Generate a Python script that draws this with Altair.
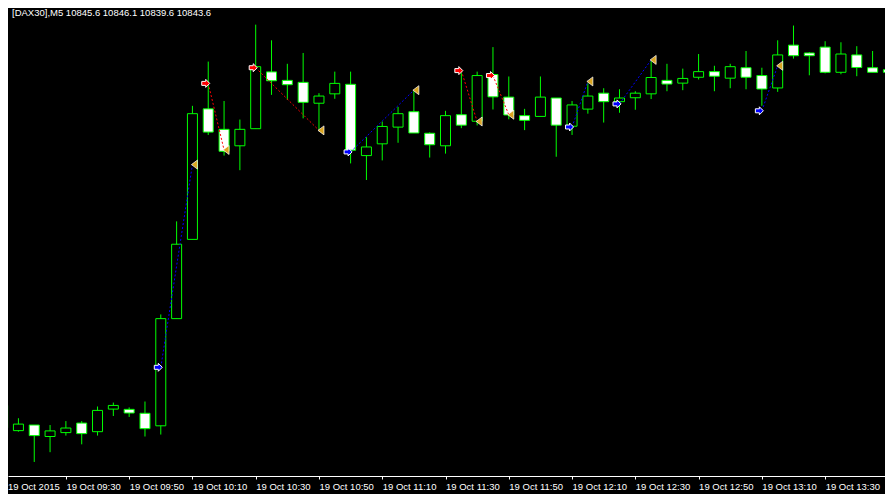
import json
import altair as alt
import pandas as pd

# ---------------- data ----------------
bar_index = list(range(-1, 56))  # 5-minute bars, bar 0 = 09:15

opens = [10588.4, 10569.1, 10573.4, 10564.6, 10567.6, 10574.9, 10568.3, 10585.6, 10585.4, 10582.4,
         10572.8, 10654.9, 10715.6, 10815.6, 10799.9, 10787.3, 10800.4, 10843.9, 10837.4, 10835.9,
         10819.9, 10827.1, 10834.4, 10779.8, 10788.8, 10801.6, 10813.4, 10796.9, 10787.3, 10811.1,
         10806.1, 10841.9, 10824.6, 10810.4, 10809.8, 10823.9, 10802.3, 10815.4, 10827.6, 10821.1,
         10824.1, 10827.1, 10837.4, 10835.3, 10839.8, 10844.1, 10839.1, 10847.1, 10841.1, 10831.6,
         10864.4, 10858.4, 10862.9, 10843.6, 10856.9, 10847.1, 10845.6]
highs = [10591.4, 10578.6, 10573.4, 10573.4, 10576.4, 10576.4, 10587.6, 10590.6, 10586.9, 10591.4,
         10658.1, 10729.4, 10817.9, 10851.8, 10821.6, 10807.4, 10880.1, 10868.1, 10850.1, 10858.4,
         10827.6, 10844.1, 10844.1, 10793.9, 10805.9, 10817.1, 10829.1, 10797.6, 10814.1, 10843.4,
         10844.1, 10862.9, 10840.4, 10815.6, 10840.4, 10823.9, 10821.6, 10835.1, 10831.4, 10830.6,
         10829.1, 10853.1, 10850.1, 10846.4, 10857.6, 10848.6, 10850.1, 10859.9, 10847.1, 10868.1,
         10879.4, 10859.1, 10867.4, 10866.6, 10863.6, 10859.9, 10846.1]
lows = [10568.9, 10568.3, 10545.1, 10552.6, 10565.3, 10558.6, 10565.3, 10580.3, 10579.6, 10564.6,
        10566.1, 10654.9, 10715.6, 10795.6, 10779.8, 10768.6, 10800.4, 10826.3, 10822.4, 10808.3,
        10798.9, 10823.3, 10773.8, 10761.1, 10776.1, 10789.6, 10797.1, 10778.3, 10781.3, 10800.8,
        10802.9, 10815.1, 10807.6, 10799.3, 10809.8, 10778.9, 10795.6, 10811.9, 10805.1, 10812.6,
        10814.9, 10823.1, 10829.1, 10829.9, 10838.1, 10829.1, 10831.4, 10830.6, 10817.9, 10828.6,
        10854.1, 10841.3, 10842.8, 10842.1, 10840.6, 10843.6, 10839.6]
closes = [10571.3, 10574.1, 10565.3, 10568.9, 10571.1, 10566.8, 10584.6, 10588.4, 10582.6, 10570.6,
          10654.9, 10711.9, 10811.9, 10797.8, 10783.1, 10799.9, 10847.9, 10837.1, 10834.1, 10820.6,
          10825.4, 10835.1, 10783.9, 10786.4, 10802.1, 10811.9, 10797.1, 10788.1, 10810.4, 10803.1,
          10841.1, 10824.8, 10810.9, 10806.8, 10824.6, 10803.1, 10818.6, 10825.4, 10821.1, 10823.9,
          10827.6, 10839.6, 10834.6, 10838.9, 10844.1, 10840.6, 10847.9, 10839.8, 10830.8, 10856.9,
          10856.3, 10856.3, 10843.6, 10857.6, 10847.3, 10843.6, 10843.6]

# trade history (open arrow -> dotted line -> close marker)
trade_type = ["buy", "sell", "sell", "buy", "sell", "sell", "buy", "buy", "buy"]
trade_open_bar = [9, 12, 15, 21, 28, 30, 35, 38, 47]
trade_open_price = [10617.6, 10835.1, 10847.1, 10782.6, 10844.9, 10841.1, 10801.7, 10819.4, 10814.1]
trade_close_bar = [11, 13, 19, 25, 29, 31, 36, 40, 48]
trade_close_price = [10772.9, 10784.1, 10799.1, 10829.9, 10805.9, 10811.1, 10836.6, 10853.1, 10848.6]

tick_bars = [3, 7, 11, 15, 19, 23, 27, 31, 35, 39, 43, 47, 51]
tick_labels = ["19 Oct 09:30", "19 Oct 09:50", "19 Oct 10:10", "19 Oct 10:30", "19 Oct 10:50",
               "19 Oct 11:10", "19 Oct 11:30", "19 Oct 11:50", "19 Oct 12:10", "19 Oct 12:30",
               "19 Oct 12:50", "19 Oct 13:10", "19 Oct 13:30"]
first_label = ["19 Oct 2015"]
header_text = ["[DAX30],M5  10845.6 10846.1 10839.6 10843.6"]

# ---------------- chart ----------------
W, H = 877, 468
FONT = "Liberation Sans"
GREEN = "#00FF00"

candles = pd.DataFrame({"bar": bar_index, "open": opens, "high": highs,
                        "low": lows, "close": closes})
candles["body_lo"] = candles[["open", "close"]].min(axis=1)
candles["body_hi"] = candles[["open", "close"]].max(axis=1)

trades = pd.DataFrame({"type": trade_type, "open_bar": trade_open_bar,
                       "open_price": trade_open_price, "close_bar": trade_close_bar,
                       "close_price": trade_close_price})

x_scale = alt.Scale(domain=[-0.34375, 54.46875], nice=False, zero=False)
y_scale = alt.Scale(domain=[10534.35, 10892.85], nice=False, zero=False)

label_expr = json.dumps(tick_labels) + "[round((datum.value - 3) / 4)]"
x_axis = alt.Axis(values=tick_bars, labelExpr=label_expr, title=None, grid=False,
                  domainColor="#FFFFFF", domainWidth=1, tickColor="#FFFFFF", tickSize=3,
                  tickWidth=1, labelColor="#FFFFFF", labelFont=FONT, labelFontSize=9.5,
                  labelAlign="left", labelBaseline="top", labelPadding=2,
                  labelOverlap=False, labelFlush=False)

trade_colors = alt.Scale(domain=["buy", "sell"], range=["#0000FF", "#FF0000"])

wicks = alt.Chart(candles).mark_rule(color=GREEN, strokeWidth=1, clip=True).encode(
    x=alt.X("bar:Q", scale=x_scale, axis=x_axis),
    y=alt.Y("low:Q", scale=y_scale, axis=None),
    y2="high:Q",
)

bodies = alt.Chart(candles).mark_bar(width=10, stroke=GREEN, strokeWidth=1, clip=True).encode(
    x=alt.X("bar:Q", scale=x_scale, axis=x_axis),
    y=alt.Y("body_lo:Q", scale=y_scale, axis=None),
    y2="body_hi:Q",
    fill=alt.condition("datum.close > datum.open", alt.value("#000000"), alt.value("#FFFFFF")),
)

trade_lines = alt.Chart(trades).mark_rule(strokeWidth=1, strokeDash=[2, 2], clip=True).encode(
    x=alt.X("open_bar:Q", scale=x_scale, axis=x_axis),
    y=alt.Y("open_price:Q", scale=y_scale, axis=None),
    x2="close_bar:Q",
    y2="close_price:Q",
    color=alt.Color("type:N", scale=trade_colors, legend=None),
)

arrow_path = "M-1,-0.5L0,-0.5L0,-1L1,0L0,1L0,0.5L-1,0.5Z"
open_arrows = alt.Chart(trades).mark_point(
    shape=arrow_path, size=64, filled=True, stroke="#FFFFFF", strokeWidth=1,
    opacity=1, xOffset=-2.5, clip=True
).encode(
    x=alt.X("open_bar:Q", scale=x_scale, axis=x_axis),
    y=alt.Y("open_price:Q", scale=y_scale, axis=None),
    fill=alt.Fill("type:N", scale=trade_colors, legend=None),
)

tri_path = "M-1,0L1,-1.5L1,1.5Z"
close_marks = alt.Chart(trades).mark_point(
    shape=tri_path, size=36, filled=True, fill="#DAA520", stroke="#FFFFFF",
    strokeWidth=0.7, opacity=1, xOffset=2, clip=True
).encode(
    x=alt.X("close_bar:Q", scale=x_scale, axis=x_axis),
    y=alt.Y("close_price:Q", scale=y_scale, axis=None),
)

header = alt.Chart(pd.DataFrame({"t": header_text})).mark_text(
    align="left", baseline="alphabetic", color="#FFFFFF", font=FONT, fontSize=9.5
).encode(x=alt.value(4), y=alt.value(8), text="t:N")

date_label = alt.Chart(pd.DataFrame({"t": first_label})).mark_text(
    align="left", baseline="top", color="#FFFFFF", font=FONT, fontSize=9.5
).encode(x=alt.value(0), y=alt.value(H + 5.5), text="t:N")

chart = alt.layer(
    wicks, bodies, trade_lines, open_arrows, close_marks, header, date_label
).properties(
    width=W, height=H, background="#000000",
    padding={"left": 0, "right": 0, "top": 0, "bottom": 18},
    autosize=alt.AutoSizeParams(type="none"),
).configure_view(strokeWidth=0, fill="#000000")

chart.save("out.html", embed_options={"renderer": "svg", "actions": False})
